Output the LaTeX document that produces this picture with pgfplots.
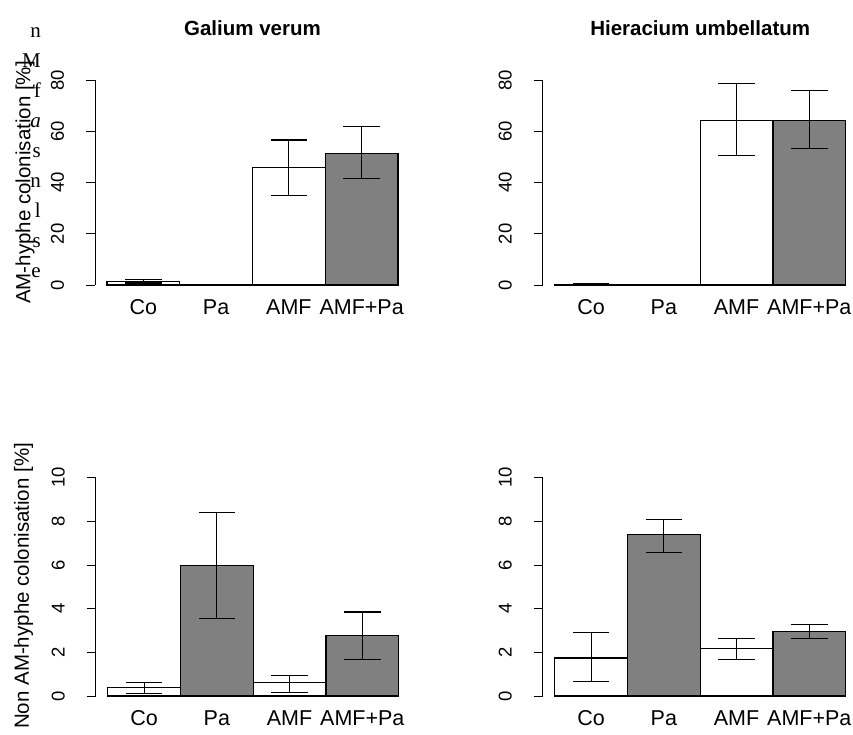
\documentclass[border=0pt]{standalone}
\usepackage{pgfplots}
\pgfplotsset{compat=1.18}
\usepackage{fontspec}
\setmainfont{Liberation Sans}
\newfontfamily\seriffont{Liberation Serif}

\pgfplotsset{
  panel/.style={
    scale only axis, width=315pt,
    xmin=-0.665, xmax=3.665,
    axis lines*=left,
    x axis line style={draw=none},
    y axis line style={line width=1pt, black},
    xtick={0,1,2,3}, xticklabels={Co,Pa,AMF,AMF+Pa},
    xtick style={draw=none},
    xtick align=inside,
    ytick align=outside,
    major tick length=9pt,
    ytick style={line width=1pt, black},
    xticklabel style={anchor=base, yshift=-20pt, font=\fontsize{21.5}{22}\selectfont},
    yticklabel style={xshift=-22pt, rotate=90, anchor=base, font=\fontsize{18.5}{19}\selectfont},
    /pgf/number format/assume math mode=true,
    ybar, bar width=1, bar shift=0pt,
    clip=false,
    title style={at={(0.5,1)}, anchor=base, yshift=38.6pt, font=\bfseries\fontsize{20.5}{21}\selectfont},
    every axis y label/.style={at={(axis description cs:0,0.5)}, anchor=center, xshift=-70pt, rotate=90, font=\fontsize{20.5}{21}\selectfont},
  },
  errs/.style={error bars/.cd, y dir=both, y explicit,
    error bar style={line width=1.1pt, black},
    error mark options={line width=1.1pt, black, mark size=18.2pt, rotate=90}},
  wbar/.style={fill=white, draw=black, line width=1.1pt, errs},
  gbar/.style={fill=black!50, draw=black, line width=1.1pt, errs},
}

\begin{document}
\begin{tikzpicture}
\useasboundingbox (0pt,0pt) rectangle (853pt,-734pt);

% cut-off caption text on the left edge
\foreach \c [count=\i from 0] in {n,M,f,{\itshape a},s,n,l,s,e}
  \node[anchor=base east, inner sep=0pt, font=\seriffont\fontsize{21}{21}\selectfont] at (41pt, {-37.5pt-30pt*\i}) {\c};

% Top left: Galium verum, AM
\begin{axis}[panel, at={(95pt,-285pt)}, anchor=south west, height=205pt,
  ymin=0, ymax=80, ytick={0,20,40,60,80},
  title={Galium verum}, ylabel={AM-hyphe colonisation [\%]}]
\addplot[wbar] table[x=x, y=y, y error plus=ep, y error minus=em] {
x y ep em
0 1.5 0.6 0.7
2 45.8 10.8 10.7
};
\addplot[gbar] table[x=x, y=y, y error plus=ep, y error minus=em] {
x y ep em
1 0 0 0
3 51.4 10.3 9.8
};
\end{axis}

% Top right: Hieracium umbellatum, AM
\begin{axis}[panel, at={(542.7pt,-285pt)}, anchor=south west, height=205pt,
  ymin=0, ymax=80, ytick={0,20,40,60,80},
  title={Hieracium umbellatum}]
\addplot[wbar] table[x=x, y=y, y error plus=ep, y error minus=em] {
x y ep em
0 0.3 0.2 0.2
2 64.1 14.6 13.6
};
\addplot[gbar] table[x=x, y=y, y error plus=ep, y error minus=em] {
x y ep em
1 0 0 0
3 64.1 11.7 11.0
};
\end{axis}

% Bottom left: Galium verum, non-AM
\begin{axis}[panel, at={(95.7pt,-696pt)}, anchor=south west, height=218.3pt,
  ymin=0, ymax=10, ytick={0,2,4,6,8,10},
  ylabel={Non AM-hyphe colonisation [\%]},
  every axis y label/.append style={xshift=1pt, yshift=2pt}]
\addplot[wbar] table[x=x, y=y, y error plus=ep, y error minus=em] {
x y ep em
0 0.37 0.23 0.25
2 0.6 0.36 0.43
};
\addplot[gbar] table[x=x, y=y, y error plus=ep, y error minus=em] {
x y ep em
1 5.99 2.41 2.43
3 2.76 1.09 1.07
};
\end{axis}

% Bottom right: Hieracium umbellatum, non-AM
\begin{axis}[panel, at={(542.7pt,-696pt)}, anchor=south west, height=218.3pt,
  ymin=0, ymax=10, ytick={0,2,4,6,8,10}]
\addplot[wbar] table[x=x, y=y, y error plus=ep, y error minus=em] {
x y ep em
0 1.74 1.16 1.08
2 2.17 0.47 0.48
};
\addplot[gbar] table[x=x, y=y, y error plus=ep, y error minus=em] {
x y ep em
1 7.38 0.71 0.80
3 2.96 0.31 0.32
};
\end{axis}
\end{tikzpicture}
\end{document}
